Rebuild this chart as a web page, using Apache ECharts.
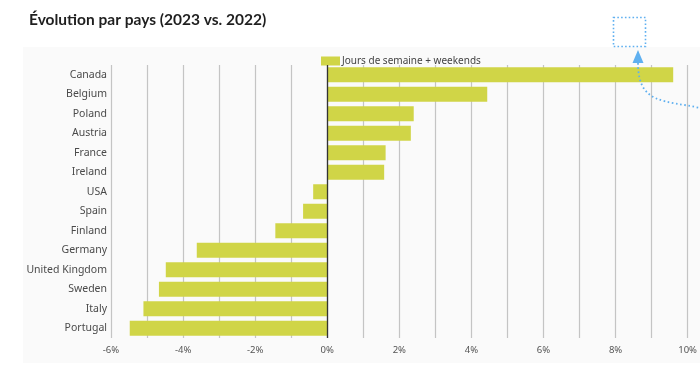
<!DOCTYPE html>
<html><head><meta charset="utf-8">
<script src="https://cdn.jsdelivr.net/npm/echarts@6/dist/echarts.min.js"></script>
<style>html,body{margin:0;padding:0;background:#fff}#c{width:700px;height:389px}</style>
</head><body><div id="c"></div>
<script>
const categories = ['Canada','Belgium','Poland','Austria','France','Ireland','USA','Spain','Finland','Germany','United Kingdom','Sweden','Italy','Portugal'];
const values = [9.60, 4.44, 2.40, 2.32, 1.62, 1.58, -0.39, -0.67, -1.44, -3.62, -4.48, -4.67, -5.10, -5.48];
const seriesName = 'Jours de semaine + weekends';
const titleText = 'Évolution par pays (2023 vs. 2022)';
const xMin = -6, xMax = 10;

const chart = echarts.init(document.getElementById('c'));
chart.setOption({
  animation: false,
  backgroundColor: '#fff',
  title: { text: titleText, left: 24, top: 7, textStyle: { fontFamily: 'Lato', fontWeight: 'bold', fontSize: 15.5, color: '#1f1f1f' } },
  legend: { data: [seriesName], left: 316, top: 51, itemWidth: 19, itemHeight: 9, itemGap: 4, icon: 'rect',
    textStyle: { fontFamily: 'Noto Sans', fontSize: 10, color: '#444', padding: [0,0,0,-3] } },
  grid: { left: 111, right: 10, top: 65, bottom: 51 },
  xAxis: { type: 'value', min: xMin, max: xMax, interval: 1,
    axisLine: { show: false }, axisTick: { show: false },
    splitLine: { show: true, lineStyle: { color: '#c4c4c4', width: 1.2 } },
    axisLabel: { fontFamily: 'Noto Sans', fontSize: 9.5, color: '#555', margin: 7,
      formatter: v => (Math.round(v) % 2 === 0 ? Math.round(v) + '%' : '') } },
  yAxis: { type: 'category', data: categories, inverse: true,
    axisLine: { show: false }, axisTick: { show: false }, splitLine: { show: false },
    axisLabel: { fontFamily: 'Noto Sans', fontSize: 10.5, color: '#4a4a4a', margin: 4 } },
  graphic: [
    { type: 'rect', z: -10, shape: { x: 23, y: 47, width: 677, height: 316 }, style: { fill: '#fafafa' }, silent: true },
    { type: 'rect', z: 100, shape: { x: 613.5, y: 17.5, width: 32, height: 29 }, style: { fill: 'none', stroke: '#5fb0f0', lineWidth: 1.6, lineDash: [1.6, 2.2] }, silent: true },
    { type: 'polygon', z: 100, shape: { points: [[638, 50], [632.5, 63], [643.5, 63]] }, style: { fill: '#5fb0f0' }, silent: true },
    { type: 'bezierCurve', z: 100, shape: { x1: 638, y1: 63, cpx1: 638, cpy1: 105, cpx2: 665, cpy2: 100, x2: 700, y2: 108 }, style: { fill: 'none', stroke: '#5fb0f0', lineWidth: 1.8, lineDash: [1.6, 2.6] }, silent: true }
  ],
  series: [{
    name: seriesName, type: 'bar', data: values, barWidth: 15,
    itemStyle: { color: '#d0d547' },
    markLine: { silent: true, symbol: 'none', label: { show: false },
      lineStyle: { color: '#333', width: 1.3, type: 'solid' }, data: [{ xAxis: 0 }] }
  }]
});
</script></body></html>
